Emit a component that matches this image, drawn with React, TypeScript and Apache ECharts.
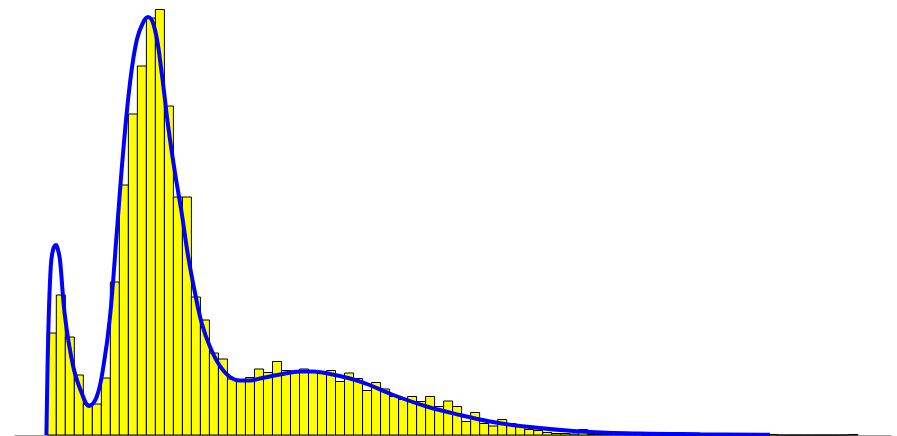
import React, { useEffect, useRef } from "react";
import * as echarts from "echarts";

// Histogram: bin i covers [i, i + 1)
const binCounts: number[] = [
  204, 280, 196, 120, 62, 62, 114, 306, 500, 642,
  738, 834, 851, 658, 476, 476, 276, 230, 164, 152,
  112, 107, 115, 132, 125, 147, 129, 128, 132, 128,
  126, 129, 107, 124, 113, 89, 105, 92, 77, 71,
  77, 67, 77, 57, 68, 57, 27, 45, 23, 18,
  31, 23, 17, 11, 9, 5, 3, 3, 2, 11,
  1, 1, 1, 1, 5, 1, 0, 1, 1, 0,
  0, 1, 0, 0, 0, 1, 0, 0, 0, 0,
  1, 0, 0, 0, 0, 0, 0, 0, 0, 1,
];

// Density curve (scaled to counts)
const curveX: number[] = [
  -0.1, 0.11, 0.38, 0.63, 0.97, 1.19, 1.41, 1.97, 2.89, 3.82,
  4.66, 5.48, 6.22, 6.96, 7.71, 8.44, 9.18, 9.93, 10.66, 11.21,
  11.96, 12.7, 13.43, 14.18, 14.92, 15.65, 16.4, 17.14, 18.07, 19.17,
  20.28, 21.39, 22.5, 23.62, 25.84, 28.06, 29.5, 31.39, 33.61, 35.49,
  38.41, 42.12, 45.82, 49.15, 52.48, 59.15, 65.81, 72.47, 80.24,
];
const curveY: number[] = [
  0, 204, 336, 370, 380, 370, 350, 236, 136, 84,
  58, 76, 136, 236, 404, 570, 704, 790, 826, 836,
  810, 724, 616, 524, 444, 356, 284, 224, 176, 138,
  116, 109, 109, 113, 121, 127, 127, 122, 113, 102,
  80, 57, 40, 27, 18, 7, 3, 1.6, 0.6,
];

const X_MIN = -3.586;
const X_MAX = 93.67;
const Y_MAX = 870;

export default function App() {
  const ref = useRef<HTMLDivElement>(null);

  useEffect(() => {
    if (!ref.current) return;
    const chart = echarts.init(ref.current, null, { renderer: "svg" });
    const histData = binCounts.map((c, i) => [i, i + 1, c]);
    const curveData = curveX.map((x, i) => [x, curveY[i]]);
    chart.setOption({
      animation: false,
      grid: { left: 15, right: 6, top: 0, bottom: 1 },
      xAxis: {
        type: "value",
        min: X_MIN,
        max: X_MAX,
        axisLine: { show: true, onZero: false, lineStyle: { color: "#999", width: 1 } },
        axisTick: { show: false },
        axisLabel: { show: false },
        splitLine: { show: false },
      },
      yAxis: {
        type: "value",
        min: 0,
        max: Y_MAX,
        show: false,
        splitLine: { show: false },
      },
      series: [
        {
          type: "custom",
          data: histData,
          encode: { x: [0, 1], y: 2 },
          renderItem: (params: any, api: any) => {
            const p0 = api.coord([api.value(0), api.value(2)]);
            const p1 = api.coord([api.value(1), 0]);
            return {
              type: "rect",
              shape: { x: p0[0], y: p0[1], width: p1[0] - p0[0], height: p1[1] - p0[1] },
              style: { fill: "#ffff00", stroke: "#000000", lineWidth: 1 },
            };
          },
          z: 2,
        },
        {
          type: "line",
          data: curveData,
          showSymbol: false,
          smooth: 0.4,
          lineStyle: { color: "#0000ff", width: 4 },
          z: 3,
        },
      ],
    });
    return () => chart.dispose();
  }, []);

  return (
    <div
      ref={ref}
      style={{ position: "absolute", left: 0, top: 0, width: 897, height: 436 }}
    />
  );
}
